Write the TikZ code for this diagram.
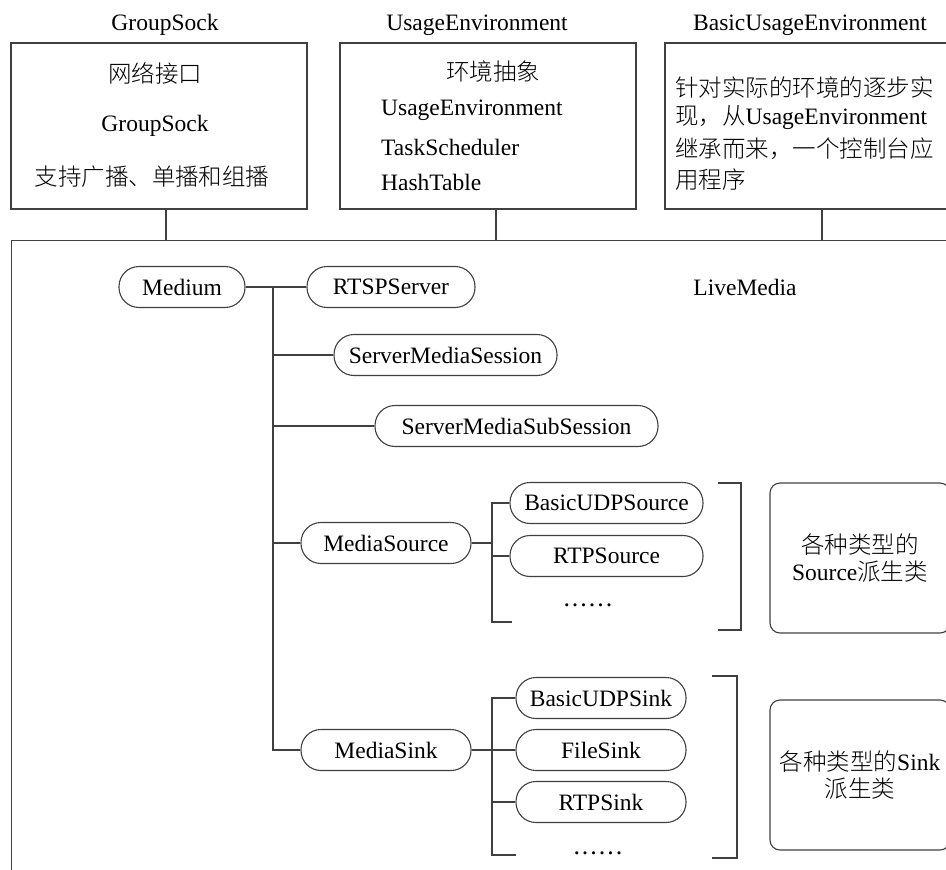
\documentclass[tikz,border=0pt]{standalone}
\usepackage{fontspec}
\setmainfont{Liberation Serif}
\newfontfamily\cjk{Noto Sans CJK SC}[UprightFont=* Light]
\newcommand{\zh}[1]{{\cjk #1}}
\definecolor{linec}{HTML}{404040}

\begin{document}
\begin{tikzpicture}[x=1pt,y=-1pt,
  every node/.style={font=\fontsize{23.5}{28}\selectfont, text=black, inner sep=0pt},
  box/.style={draw=linec, line width=1.2pt},
  pill/.style={draw=linec, line width=1.1pt, rounded corners=20pt,
               minimum height=41pt},
  note/.style={draw=linec, line width=1.1pt, rounded corners=10pt,
               minimum width=180pt, minimum height=150pt, align=center},
  conn/.style={draw=linec, line width=2pt},
  link/.style={draw=linec, line width=1.2pt},
  brk/.style={draw=linec, line width=2pt},
  dotrow/.style={font=\fontsize{26}{28}\selectfont}]

\useasboundingbox (0,0) rectangle (946,870);
\clip (0,0) rectangle (946,870);

% ---- top module boxes ----
\node (lbGS) at (165,25) {GroupSock};
\node (lbUE) at (477,25) {UsageEnvironment};
\node (lbBU) at (810,25) {BasicUsageEnvironment};

\node[box, minimum width=296pt, minimum height=166pt] (gs) at (159,126) {};
\node[box, minimum width=296pt, minimum height=166pt] (ue) at (488,126) {};
\node[box, minimum width=296pt, minimum height=166pt] (bu) at (813,126) {};

\node (gs1) at (155,73)  {\zh{网络接口}};
\node (gs2) at (155,126) {GroupSock};
\node (gs3) at (152,177) {\zh{支持广播、单播和组播}};

\node (ue1) at (493,72) {\zh{环境抽象}};
\node[anchor=west] (ue2) at (381,110) {UsageEnvironment};
\node[anchor=west] (ue3) at (381,147) {TaskScheduler};
\node[anchor=west] (ue4) at (381,182) {HashTable};

\node[anchor=west] (bu1) at (675,88)  {\zh{针对实际的环境的逐步实}};
\node[anchor=west] (bu2) at (675,118) {\zh{现，从}UsageEnvironment};
\node[anchor=west] (bu3) at (675,149) {\zh{继承而来，一个控制台应}};
\node[anchor=west] (bu4) at (675,180) {\zh{用程序}};

% ---- LiveMedia container ----
\node[box, anchor=north west, minimum width=960pt, minimum height=700pt] (lm) at (11,240) {};
\node (lmlabel) at (745,287) {LiveMedia};

\draw[link] (gs.south -| 166,0) -- (lm.north -| 166,0);
\draw[link] (ue.south -| 496,0) -- (lm.north -| 496,0);
\draw[link] (bu.south -| 822,0) -- (lm.north -| 822,0);

% ---- class hierarchy ----
\node[pill, minimum width=126pt] (medium) at (182,287) {Medium};
\node[pill, minimum width=168pt] (rtsp)   at (391,287) {RTSPServer};
\node[pill, minimum width=223pt] (sms)    at (445.5,355) {ServerMediaSession};
\node[pill, minimum width=283pt] (smss)   at (516.5,426) {ServerMediaSubSession};
\node[pill, minimum width=170pt] (msrc)   at (386,543) {MediaSource};
\node[pill, minimum width=170pt] (msink)  at (386,750) {MediaSink};

\node[pill, minimum width=193pt] (udpsrc) at (606.5,503) {BasicUDPSource};
\node[pill, minimum width=193pt] (rtpsrc) at (606.5,556) {RTPSource};
\node[dotrow] (dots1) at (588,605) {.\kern2pt.\kern2pt.\kern2pt.\kern2pt.\kern2pt.};

\node[pill, minimum width=170pt] (udpsink) at (601,698) {BasicUDPSink};
\node[pill, minimum width=170pt] (filesink) at (601,750) {FileSink};
\node[pill, minimum width=170pt] (rtpsink) at (601,802) {RTPSink};
\node[dotrow] (dots2) at (598,853) {.\kern2pt.\kern2pt.\kern2pt.\kern2pt.\kern2pt.};

% main trunk
\coordinate (t0) at (273,287);
\coordinate (t1) at (273,750);
\draw[conn] (medium.east) -- (rtsp.west);
\draw[conn] (t0) -- (t1) -- (msink.west);
\draw[conn] (sms.west) -- (sms.west -| t0);
\draw[conn] (smss.west) -- (smss.west -| t0);
\draw[conn] (msrc.west) -- (msrc.west -| t0);

% source sub-trunk
\coordinate (s0) at (492,503);
\coordinate (s1) at (492,622);
\coordinate (s2) at (512,622);
\draw[conn] (udpsrc.west) -- (s0) -- (s1) -- (s2);
\draw[conn] (msrc.east) -- (msrc.east -| s0);
\draw[conn] (rtpsrc.west) -- (rtpsrc.west -| s0);

% sink sub-trunk
\coordinate (k0) at (492,698);
\coordinate (k1) at (492,855);
\coordinate (k2) at (516,855);
\draw[conn] (udpsink.west) -- (k0) -- (k1) -- (k2);
\draw[conn] (msink.east) -- (filesink.west);
\draw[conn] (rtpsink.west) -- (rtpsink.west -| k0);

% brackets
\coordinate (b0) at (718,483);
\coordinate (b1) at (741,483);
\coordinate (b2) at (741,630);
\coordinate (b3) at (718,630);
\draw[brk] (b0) -- (b1) -- (b2) -- (b3);
\coordinate (c0) at (712,676);
\coordinate (c1) at (737,676);
\coordinate (c2) at (737,858);
\coordinate (c3) at (712,858);
\draw[brk] (c0) -- (c1) -- (c2) -- (c3);

% notes
\node[note, font=\fontsize{23.5}{27}\selectfont] (srcnote) at (860,558)
  {\zh{各种类型的}\\Source\zh{派生类}};
\node[note, font=\fontsize{23.5}{27}\selectfont] (sinknote) at (860,775)
  {\zh{各种类型的}Sink\\\zh{派生类}};
\end{tikzpicture}
\end{document}
